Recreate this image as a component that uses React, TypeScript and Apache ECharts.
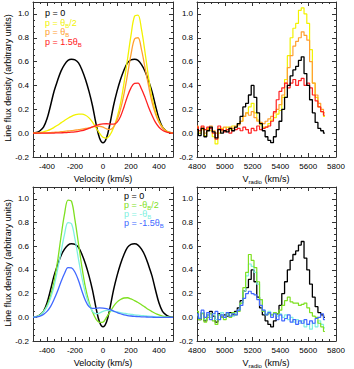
import React, { useEffect, useRef } from 'react';
import * as echarts from 'echarts';

// ---------- model curves (left panels) ----------
const VEL = [-500, -475, -450, -425, -400, -375, -350, -325, -300, -275, -250, -225, -200, -175, -150, -125, -100, -75, -50, -25, 0,
  25, 50, 75, 100, 125, 150, 175, 200, 225, 250, 275, 300, 325, 350, 375, 400, 425, 450, 475, 500];

const MODEL_P0 = [0.000, 0.005, 0.020, 0.050, 0.120, 0.230, 0.350, 0.440, 0.520, 0.575, 0.610, 0.620, 0.615, 0.590, 0.530, 0.450, 0.350, 0.230, 0.080, -0.040, -0.080,
  -0.040, 0.080, 0.230, 0.350, 0.450, 0.530, 0.590, 0.615, 0.620, 0.610, 0.575, 0.520, 0.440, 0.350, 0.230, 0.120, 0.050, 0.020, 0.005, 0.000];

const MODEL_HALF = [0.000, 0.002, 0.005, 0.010, 0.020, 0.032, 0.048, 0.066, 0.086, 0.106, 0.125, 0.141, 0.153, 0.160, 0.160, 0.150, 0.128, 0.092, 0.045, 0.000, -0.035,
  -0.042, -0.015, 0.045, 0.130, 0.250, 0.420, 0.620, 0.820, 0.980, 0.990, 0.870, 0.680, 0.470, 0.300, 0.180, 0.100, 0.050, 0.020, 0.006, 0.000];

const MODEL_ONE = [0, 0, 0.001, 0.002, 0.003, 0.005, 0.007, 0.009, 0.012, 0.015, 0.018, 0.021, 0.025, 0.029, 0.034, 0.039, 0.045, 0.051, 0.056, 0.058, 0.050,
  0.036, 0.030, 0.050, 0.110, 0.200, 0.330, 0.490, 0.660, 0.790, 0.800, 0.700, 0.550, 0.400, 0.260, 0.160, 0.090, 0.045, 0.018, 0.006, 0];

const MODEL_ONEHALF = [0, 0, 0, 0, 0, 0, 0.001, 0.002, 0.003, 0.004, 0.006, 0.008, 0.011, 0.015, 0.021, 0.030, 0.041, 0.053, 0.064, 0.073, 0.078,
  0.079, 0.076, 0.075, 0.090, 0.140, 0.220, 0.310, 0.380, 0.418, 0.420, 0.370, 0.300, 0.220, 0.150, 0.090, 0.050, 0.025, 0.010, 0.003, 0];

const MODEL_MHALF = [0.000, 0.006, 0.020, 0.050, 0.100, 0.180, 0.300, 0.470, 0.680, 0.870, 0.990, 0.980, 0.820, 0.620, 0.420, 0.250, 0.130, 0.045, -0.015, -0.042, -0.040,
  0.000, 0.045, 0.092, 0.128, 0.150, 0.163, 0.165, 0.155, 0.141, 0.125, 0.106, 0.086, 0.066, 0.048, 0.032, 0.020, 0.010, 0.005, 0.002, 0.000];

const MODEL_MONE = [0, 0.006, 0.018, 0.045, 0.090, 0.160, 0.260, 0.400, 0.550, 0.700, 0.800, 0.790, 0.660, 0.490, 0.330, 0.200, 0.110, 0.050, 0.030, 0.036, 0.050,
  0.058, 0.056, 0.051, 0.045, 0.039, 0.034, 0.029, 0.025, 0.021, 0.018, 0.015, 0.012, 0.009, 0.007, 0.005, 0.003, 0.002, 0.001, 0, 0];

const MODEL_MONEHALF = [0, 0.003, 0.010, 0.025, 0.050, 0.090, 0.150, 0.220, 0.300, 0.370, 0.420, 0.418, 0.380, 0.310, 0.220, 0.140, 0.090, 0.075, 0.076, 0.079, 0.078,
  0.073, 0.064, 0.053, 0.041, 0.030, 0.021, 0.015, 0.011, 0.008, 0.006, 0.004, 0.003, 0.002, 0.001, 0, 0, 0, 0, 0, 0];

// ---------- observed spectra (right panels) ----------
const OBS_V = [4800, 4820, 4840, 4860, 4880, 4900, 4920, 4940, 4960, 4980, 5000, 5020, 5040, 5060, 5080, 5100, 5120, 5140, 5160, 5180,
  5200, 5220, 5240, 5260, 5280, 5300, 5320, 5340, 5360, 5380, 5400, 5420, 5440, 5460, 5480, 5500, 5520, 5540, 5560, 5580,
  5600, 5620, 5640, 5660, 5680, 5700, 5720];

const OBS_BLACK = [0.03, -0.02, 0.04, -0.03, 0.02, 0.05, 0.01, -0.04, 0.03, 0.00, 0.02, 0.01, 0.04, 0.02, 0.05, 0.08, 0.14, 0.22, 0.25, 0.32,
  0.40, 0.30, 0.17, 0.08, 0.02, -0.03, -0.06, -0.08, -0.03, 0.03, 0.10, 0.20, 0.30, 0.40, 0.48, 0.53, 0.56, 0.61, 0.64, 0.50,
  0.40, 0.28, 0.17, 0.09, 0.04, 0.02, 0.00];

const OBS_YELLOW = [0.05, 0.00, 0.03, -0.02, 0.04, 0.02, -0.03, -0.09, 0.00, 0.04, 0.02, 0.05, 0.03, 0.06, 0.05, 0.08, 0.10, 0.14, 0.17, 0.22,
  0.25, 0.17, 0.11, 0.07, 0.05, 0.05, 0.08, 0.11, 0.13, 0.16, 0.19, 0.30, 0.45, 0.65, 0.80, 0.88, 0.92, 1.03, 1.05, 1.00,
  0.92, 0.70, 0.42, 0.30, 0.22, 0.18, 0.14];

const OBS_ORANGE = [0.06, 0.02, 0.05, 0.00, 0.03, 0.06, 0.02, 0.00, 0.04, 0.02, 0.05, 0.03, 0.05, 0.04, 0.06, 0.07, 0.10, 0.14, 0.17, 0.15,
  0.18, 0.13, 0.10, 0.09, 0.08, 0.10, 0.12, 0.14, 0.17, 0.20, 0.24, 0.32, 0.42, 0.55, 0.65, 0.73, 0.77, 0.80, 0.85, 0.82,
  0.78, 0.60, 0.42, 0.32, 0.25, 0.20, 0.17];

const OBS_RED = [0.05, 0.02, 0.06, 0.03, 0.05, 0.04, 0.00, -0.05, 0.06, 0.03, 0.01, 0.03, 0.00, 0.02, 0.03, 0.04, 0.02, 0.05, 0.03, 0.00,
  0.04, 0.02, 0.06, 0.03, 0.04, 0.05, 0.06, 0.10, 0.18, 0.28, 0.35, 0.38, 0.42, 0.38, 0.42, 0.45, 0.40, 0.44, 0.46, 0.40,
  0.42, 0.38, 0.32, 0.27, 0.22, 0.18, 0.15];

const OBS_GREEN = [0.05, -0.02, 0.03, -0.04, 0.00, 0.03, -0.03, -0.06, 0.02, 0.00, -0.02, 0.03, 0.00, 0.04, 0.02, 0.05, 0.12, 0.25, 0.38, 0.53,
  0.48, 0.42, 0.30, 0.15, 0.05, 0.02, 0.03, 0.02, 0.04, 0.03, 0.06, 0.10, 0.14, 0.17, 0.13, 0.12, 0.12, 0.10, 0.11, 0.12,
  0.08, 0.04, 0.01, 0.00, -0.05, -0.08, -0.12];

const OBS_CYAN = [0.02, 0.00, 0.04, -0.02, 0.02, 0.00, 0.03, -0.02, 0.02, 0.04, 0.00, 0.02, 0.03, 0.01, 0.04, 0.06, 0.12, 0.22, 0.35, 0.45,
  0.43, 0.38, 0.28, 0.15, 0.06, 0.03, 0.05, 0.02, 0.04, 0.01, 0.03, 0.00, 0.02, -0.02, 0.00, -0.04, -0.02, -0.05, -0.03, -0.08,
  -0.06, -0.10, -0.05, -0.08, -0.03, -0.06, -0.09];

const OBS_BLUE = [0.03, -0.01, 0.06, 0.00, 0.04, -0.02, 0.03, 0.05, -0.02, 0.02, 0.00, 0.04, 0.01, 0.03, 0.02, 0.06, 0.10, 0.16, 0.20, 0.22,
  0.20, 0.19, 0.15, 0.10, 0.06, 0.02, 0.04, 0.00, 0.03, -0.02, 0.02, -0.03, -0.01, 0.02, -0.04, -0.02, -0.06, -0.03, -0.05, -0.02,
  -0.06, -0.03, -0.05, -0.01, 0.00, 0.03, -0.02];

// ---------- tick labels ----------
const VEL_LABELS = [-400, -200, 0, 200, 400];
const VRAD_LABELS = [4800, 5000, 5200, 5400, 5600, 5800];
const FLUX_LABELS = [-0.2, 0.0, 0.2, 0.4, 0.6, 0.8, 1.0];

const C_BLACK = '#000000';
const C_YELLOW = '#f2f200';
const C_ORANGE = '#ffa030';
const C_RED = '#ff2020';
const C_GREEN = '#7ee020';
const C_CYAN = '#80f0e0';
const C_BLUE = '#4068ff';

const FONT = 'Liberation Sans, Arial, Helvetica, sans-serif';
const AXC = '#333333';

const GRIDS = [
  { left: 33, top: 2, width: 140, height: 155 },
  { left: 197, top: 2, width: 139, height: 155 },
  { left: 33, top: 187, width: 140, height: 154 },
  { left: 197, top: 187, width: 139, height: 154 },
];

function pairs(xs: number[], ys: number[]) {
  return xs.map((x, i) => [x, ys[i]]);
}

function xAxes(gi: number, min: number, max: number, interval: number, minorSplit: number, labels: number[]) {
  const common = {
    type: 'value', gridIndex: gi, min, max, interval,
    axisLine: { show: true, onZero: false, lineStyle: { color: AXC, width: 1 } },
    axisTick: { show: true, inside: true, length: 4, lineStyle: { color: AXC, width: 1 } },
    minorTick: { show: true, splitNumber: minorSplit, length: 2, lineStyle: { color: AXC, width: 1 } },
    splitLine: { show: false },
  };
  return [
    {
      ...common, position: 'bottom',
      axisLabel: {
        show: true, fontSize: 8, color: '#000', fontFamily: FONT, margin: 5,
        formatter: (v: number) => (labels.some((l) => Math.abs(l - v) < 1e-6) ? String(v) : ''),
      },
    },
    { ...common, position: 'top', axisLabel: { show: false } },
  ];
}

function yAxes(gi: number) {
  const common = {
    type: 'value', gridIndex: gi, min: -0.2, max: 1.1, interval: 0.2,
    axisLine: { show: true, onZero: false, lineStyle: { color: AXC, width: 1 } },
    axisTick: { show: true, inside: true, length: 4, lineStyle: { color: AXC, width: 1 } },
    minorTick: { show: true, splitNumber: 4, length: 2, lineStyle: { color: AXC, width: 1 } },
    splitLine: { show: false },
  };
  return [
    {
      ...common, position: 'left',
      axisLabel: {
        show: true, fontSize: 8, color: '#000', fontFamily: FONT, margin: 4,
        formatter: (v: number) => (FLUX_LABELS.some((l) => Math.abs(l - v) < 1e-6) ? v.toFixed(1) : ''),
      },
    },
    { ...common, position: 'right', axisLabel: { show: false } },
  ];
}

function modelSeries(gi: number, ys: number[], color: string, width = 1.3) {
  return {
    type: 'line', xAxisIndex: gi * 2, yAxisIndex: gi * 2, data: pairs(VEL, ys),
    showSymbol: false, smooth: 0.35, silent: true, clip: true,
    lineStyle: { color, width }, itemStyle: { color },
  };
}

function obsSeries(gi: number, ys: number[], color: string, width = 1.2) {
  return {
    type: 'line', xAxisIndex: gi * 2, yAxisIndex: gi * 2, data: pairs(OBS_V, ys),
    showSymbol: false, step: 'middle', silent: true, clip: true,
    lineStyle: { color, width }, itemStyle: { color },
  };
}

function legendText(x: number, y: number, pre: string, sub: string, post: string, color: string) {
  const text = sub ? `{n|${pre}}{s|${sub}}{n|${post}}` : `{n|${pre}}`;
  return {
    type: 'text', x, y,
    style: {
      text,
      fontFamily: FONT,
      verticalAlign: 'middle',
      rich: {
        n: { fontSize: 9, fill: color, fontFamily: FONT, lineHeight: 11, verticalAlign: 'middle' },
        s: { fontSize: 6, fill: color, fontFamily: FONT, lineHeight: 6, verticalAlign: 'bottom' },
      },
    },
    silent: true,
  };
}

function buildOption() {
  const xAxis = [
    ...xAxes(0, -500, 500, 100, 2, VEL_LABELS),
    ...xAxes(1, 4800, 5800, 200, 4, VRAD_LABELS),
    ...xAxes(2, -500, 500, 100, 2, VEL_LABELS),
    ...xAxes(3, 4800, 5800, 200, 4, VRAD_LABELS),
  ];
  const yAxis = [...yAxes(0), ...yAxes(1), ...yAxes(2), ...yAxes(3)];

  const series = [
    modelSeries(0, MODEL_P0, C_BLACK, 1.5),
    modelSeries(0, MODEL_HALF, C_YELLOW),
    modelSeries(0, MODEL_ONE, C_ORANGE),
    modelSeries(0, MODEL_ONEHALF, C_RED),
    obsSeries(1, OBS_YELLOW, C_YELLOW),
    obsSeries(1, OBS_ORANGE, C_ORANGE),
    obsSeries(1, OBS_RED, C_RED),
    obsSeries(1, OBS_BLACK, C_BLACK, 1.3),
    modelSeries(2, MODEL_P0, C_BLACK, 1.5),
    modelSeries(2, MODEL_MHALF, C_GREEN),
    modelSeries(2, MODEL_MONE, C_CYAN),
    modelSeries(2, MODEL_MONEHALF, C_BLUE),
    obsSeries(3, OBS_BLACK, C_BLACK, 1.3),
    obsSeries(3, OBS_CYAN, C_CYAN),
    obsSeries(3, OBS_GREEN, C_GREEN),
    obsSeries(3, OBS_BLUE, C_BLUE),
  ];

  const titleStyle = { fontSize: 9, fontFamily: FONT, fill: '#000', align: 'center', verticalAlign: 'middle' };
  const vradText = (x: number, y: number) => ({
    type: 'text', x, y, silent: true,
    style: {
      text: '{n|V}{s|radio}{n| (km/s)}', align: 'center', verticalAlign: 'middle', fontFamily: FONT,
      rich: {
        n: { fontSize: 9, fill: '#000', fontFamily: FONT, lineHeight: 11, verticalAlign: 'middle' },
        s: { fontSize: 6, fill: '#000', fontFamily: FONT, lineHeight: 6, verticalAlign: 'bottom' },
      },
    },
  });

  const graphic = [
    { type: 'text', x: 8, y: 78, rotation: Math.PI / 2, silent: true, style: { ...titleStyle, text: 'Line flux density (arbitrary units)' } },
    { type: 'text', x: 8, y: 263, rotation: Math.PI / 2, silent: true, style: { ...titleStyle, text: 'Line flux density (arbitrary units)' } },
    { type: 'text', x: 103, y: 179, silent: true, style: { ...titleStyle, text: 'Velocity (km/s)' } },
    { type: 'text', x: 103, y: 363, silent: true, style: { ...titleStyle, text: 'Velocity (km/s)' } },
    vradText(266, 179),
    vradText(266, 363),
    legendText(45, 13, 'p = 0', '', '', C_BLACK),
    legendText(45, 23, 'p = θ', 'B', '/2', C_YELLOW),
    legendText(45, 32, 'p = θ', 'B', '', C_ORANGE),
    legendText(45, 42, 'p = 1.5θ', 'B', '', C_RED),
    legendText(124, 196, 'p = 0', '', '', C_BLACK),
    legendText(124, 205, 'p = -θ', 'B', '/2', C_GREEN),
    legendText(124, 214, 'p = -θ', 'B', '', C_CYAN),
    legendText(124, 223, 'p = -1.5θ', 'B', '', C_BLUE),
  ];

  return {
    animation: false,
    backgroundColor: '#ffffff',
    grid: GRIDS.map((g) => ({ ...g, containLabel: false })),
    xAxis,
    yAxis,
    series,
    graphic,
  };
}

export default function App() {
  const ref = useRef<HTMLDivElement>(null);
  useEffect(() => {
    document.body.style.margin = '0';
    const chart = echarts.init(ref.current as HTMLDivElement, null, { renderer: 'svg' });
    chart.setOption(buildOption() as any);
    return () => chart.dispose();
  }, []);
  return <div ref={ref} style={{ width: 354, height: 369 }} />;
}
